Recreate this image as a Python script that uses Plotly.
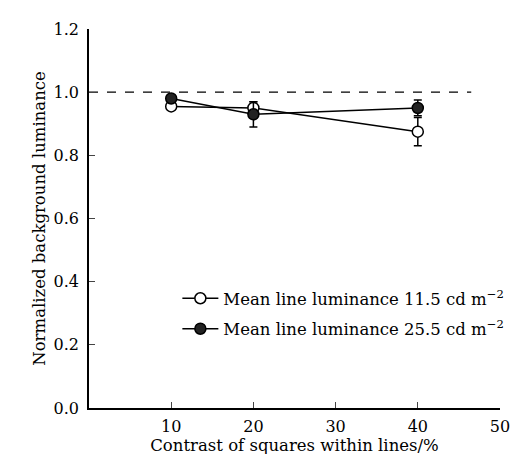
import plotly.graph_objects as go

contrast = [10, 20, 40]

low_lum = [0.955, 0.95, 0.875]
low_err = [0.0, 0.02, 0.045]

high_lum = [0.98, 0.93, 0.95]
high_err = [0.0, 0.04, 0.025]

x_ticks = [10, 20, 30, 40, 50]
y_ticks = [0.0, 0.2, 0.4, 0.6, 0.8, 1.0, 1.2]

ref_level = 1.0
ref_end = 46.5

font = "DejaVu Serif"

fig = go.Figure()

fig.add_shape(type="line", x0=0, x1=ref_end, y0=ref_level, y1=ref_level,
              xref="x", yref="y", line=dict(color="black", width=1.3, dash="dash"),
              layer="below")

fig.add_trace(go.Scatter(
    x=contrast, y=low_lum, mode="lines+markers",
    name="Mean line luminance 11.5 cd m<sup>\u22122</sup>",
    legendgroup="a",
    line=dict(color="black", width=1.5),
    marker=dict(symbol="circle", size=11, color="white", line=dict(color="black", width=1.5)),
    error_y=dict(type="data", array=low_err, color="black", thickness=1.5, width=4),
))

fig.add_trace(go.Scatter(
    x=contrast, y=high_lum, mode="lines+markers",
    name="Mean line luminance 25.5 cd m<sup>\u22122</sup>",
    legendgroup="b",
    line=dict(color="black", width=1.5),
    marker=dict(symbol="circle", size=11, color="#222222", line=dict(color="black", width=1.5)),
    error_y=dict(type="data", array=high_err, color="black", thickness=1.5, width=4),
))

fig.update_layout(
    width=528, height=454,
    margin=dict(l=81, r=36, t=20, b=51),
    plot_bgcolor="white", paper_bgcolor="white",
    font=dict(family=font, size=16, color="black"),
    legend=dict(x=0.215, y=0.335, xanchor="left", yanchor="top",
                font=dict(family=font, size=16.5, color="black"),
                itemwidth=36,
                bgcolor="rgba(0,0,0,0)", tracegroupgap=6, traceorder="grouped"),
    showlegend=True,
)

fig.update_xaxes(
    range=[0, 50], tickvals=x_ticks, ticks="inside", ticklen=6, tickwidth=1.3,
    showline=True, linecolor="black", linewidth=1.5, showgrid=False, zeroline=False,
    automargin=True, ticklabelstandoff=3,
    title=dict(text="Contrast of squares within lines/%", standoff=2, font=dict(family=font, size=16.5)),
    tickfont=dict(family=font, size=16),
)
fig.update_yaxes(
    range=[0, 1.2], tickvals=y_ticks, tickformat=".1f", ticks="inside", ticklen=6, tickwidth=1.3,
    showline=True, linecolor="black", linewidth=1.5, showgrid=False, zeroline=False,
    automargin=True, ticklabelstandoff=5,
    title=dict(text="Normalized background luminance", standoff=4, font=dict(family=font, size=16.5)),
    tickfont=dict(family=font, size=16),
)

fig.write_html("out.html")
